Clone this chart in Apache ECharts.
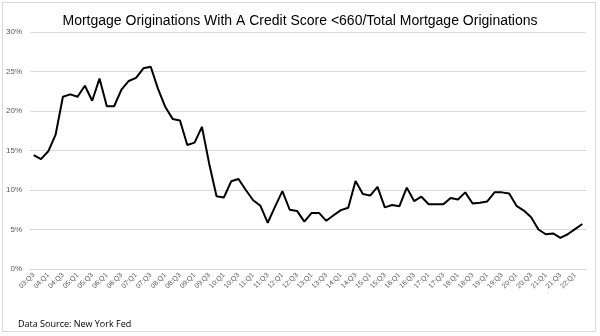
<!DOCTYPE html>
<html>
<head>
<meta charset="utf-8">
<script src="https://cdn.jsdelivr.net/npm/echarts@6/dist/echarts.min.js"></script>
<style>
  html, body { margin: 0; padding: 0; background: #fff; }
  #frame { position: absolute; left: 2px; top: 2px; width: 594px; height: 330px; border: 1px solid #d9d9d9; box-sizing: border-box; }
  #chart { position: absolute; left: 0; top: 0; width: 600px; height: 336px; }
</style>
</head>
<body>
<div id="frame"></div>
<div id="chart"></div>
<script>
// Quarterly share of originations with credit score below 660 (percent)
const quarters = [
  '03:Q3','03:Q4','04:Q1','04:Q2','04:Q3','04:Q4','05:Q1','05:Q2','05:Q3','05:Q4',
  '06:Q1','06:Q2','06:Q3','06:Q4','07:Q1','07:Q2','07:Q3','07:Q4','08:Q1','08:Q2',
  '08:Q3','08:Q4','09:Q1','09:Q2','09:Q3','09:Q4','10:Q1','10:Q2','10:Q3','10:Q4',
  '11:Q1','11:Q2','11:Q3','11:Q4','12:Q1','12:Q2','12:Q3','12:Q4','13:Q1','13:Q2',
  '13:Q3','13:Q4','14:Q1','14:Q2','14:Q3','14:Q4','15:Q1','15:Q2','15:Q3','15:Q4',
  '16:Q1','16:Q2','16:Q3','16:Q4','17:Q1','17:Q2','17:Q3','17:Q4','18:Q1','18:Q2',
  '18:Q3','18:Q4','19:Q1','19:Q2','19:Q3','19:Q4','20:Q1','20:Q2','20:Q3','20:Q4',
  '21:Q1','21:Q2','21:Q3','21:Q4','22:Q1','22:Q2'
];
const subprimeShare = [
  14.4, 13.9, 14.9, 17.0, 21.8, 22.1, 21.8, 23.2, 21.3, 24.1,
  20.6, 20.6, 22.7, 23.8, 24.2, 25.4, 25.6, 22.8, 20.5, 19.0,
  18.8, 15.7, 16.0, 18.0, 13.3, 9.2, 9.05, 11.1, 11.4, 10.0,
  8.7, 8.0, 5.85, 7.9, 9.85, 7.5, 7.35, 6.0, 7.1, 7.1,
  6.1, 6.8, 7.45, 7.75, 11.15, 9.5, 9.3, 10.4, 7.8, 8.1,
  7.95, 10.3, 8.6, 9.15, 8.2, 8.2, 8.2, 9.0, 8.8, 9.7,
  8.3, 8.4, 8.55, 9.7, 9.7, 9.55, 8.0, 7.4, 6.55, 5.0,
  4.4, 4.5, 3.95, 4.4, 5.05, 5.7
];
const titleText = 'Mortgage Originations With A Credit Score <660/Total Mortgage Originations';
const sourceText = 'Data Source: New York Fed';

const chart = echarts.init(document.getElementById('chart'), null, { renderer: 'canvas' });
chart.setOption({
  animation: false,
  backgroundColor: 'transparent',
  title: [
    {
      text: titleText,
      left: 'center',
      top: 9,
      textStyle: { fontFamily: 'Liberation Sans, Arial, sans-serif', fontSize: 14, fontWeight: 'normal', color: '#000' }
    },
    {
      text: sourceText,
      left: 13,
      top: 315,
      textStyle: { fontFamily: 'Open Sans, sans-serif', fontSize: 9, fontWeight: 'normal', color: '#000' }
    }
  ],
  grid: { left: 30, right: 14, top: 32, bottom: 67, containLabel: false },
  xAxis: {
    type: 'category',
    data: quarters,
    boundaryGap: true,
    axisLine: { show: true, lineStyle: { color: '#d9d9d9', width: 1 } },
    axisTick: { show: false },
    axisLabel: {
      interval: 1,
      rotate: 45,
      fontSize: 7,
      color: '#595959',
      fontFamily: 'Liberation Sans, Arial, sans-serif',
      margin: 5
    }
  },
  yAxis: {
    type: 'value',
    min: 0,
    max: 30,
    interval: 5,
    axisLine: { show: false },
    axisTick: { show: false },
    splitLine: { lineStyle: { color: '#d9d9d9', width: 1 } },
    axisLabel: {
      formatter: '{value}%',
      fontSize: 8,
      color: '#595959',
      fontFamily: 'Liberation Sans, Arial, sans-serif',
      margin: 8
    }
  },
  series: [{
    type: 'line',
    data: subprimeShare,
    symbol: 'none',
    lineStyle: { color: '#000', width: 2 }
  }]
});
</script>
</body>
</html>
